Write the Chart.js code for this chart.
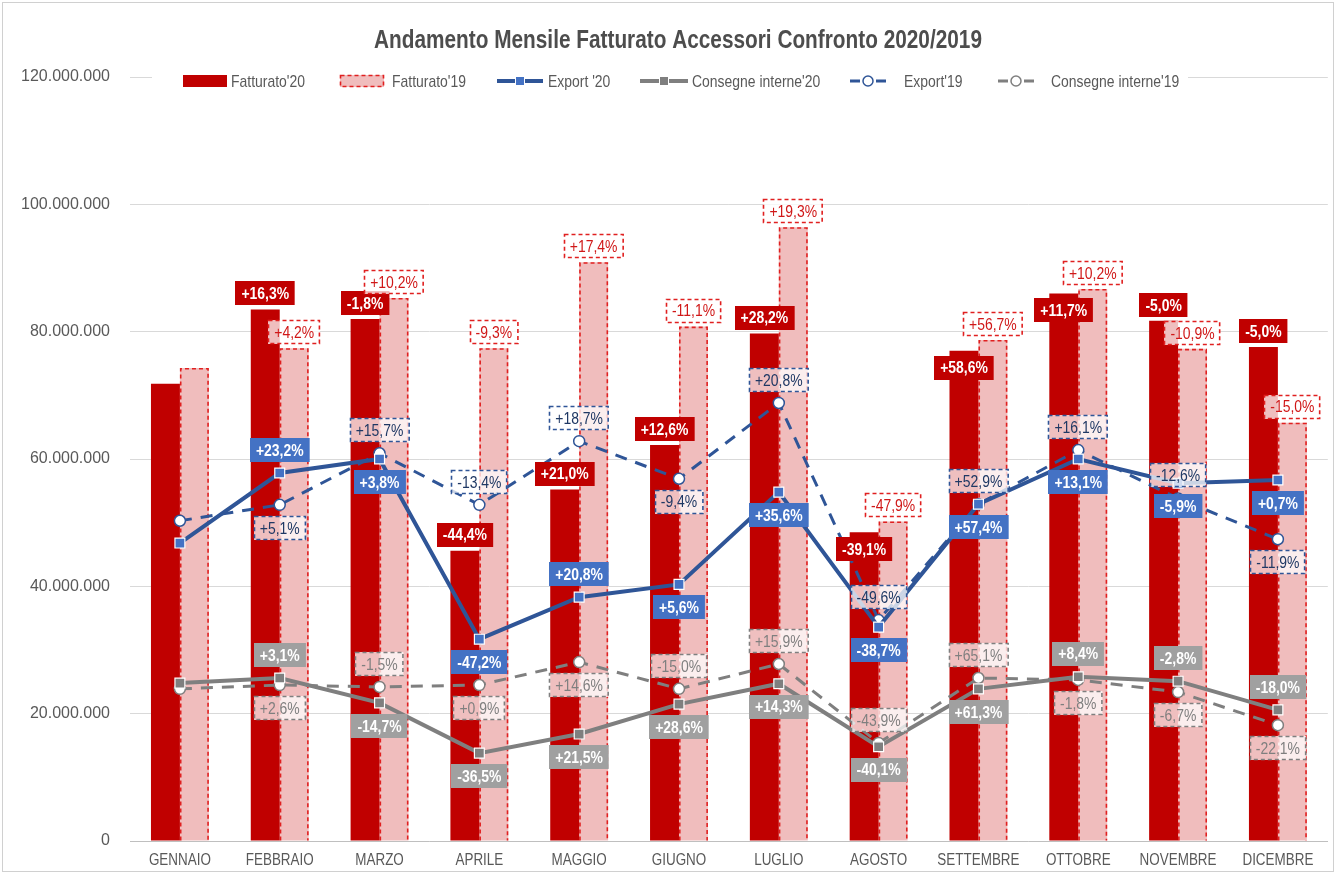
<!DOCTYPE html>
<html>
<head>
<meta charset="utf-8">
<script src="https://cdn.jsdelivr.net/npm/chart.js@4.4.0/dist/chart.umd.min.js"></script>
<style>
    html, body { margin: 0; padding: 0; background: #fff; }
    #wrap { width: 1336px; height: 874px; }
    canvas { display: block; }
</style>
</head>
<body>
<div id="wrap"><canvas id="salesChart" width="1336" height="874"></canvas></div>
<script>
// data
const months = ['GENNAIO', 'FEBBRAIO', 'MARZO', 'APRILE', 'MAGGIO', 'GIUGNO',
    'LUGLIO', 'AGOSTO', 'SETTEMBRE', 'OTTOBRE', 'NOVEMBRE', 'DICEMBRE'];

const fatturato20 = [71800000, 83500000, 82000000, 45600000, 55200000, 62200000,
    79700000, 48500000, 77000000, 86000000, 81700000, 77600000];
const fatturato19 = [74300000, 77400000, 85300000, 77400000, 90900000, 80800000,
    96400000, 50200000, 78700000, 86700000, 77300000, 65700000];
const export20 = [46800000, 57800000, 60000000, 31700000, 38300000, 40300000,
    54800000, 33600000, 52900000, 60000000, 56200000, 56700000];
const export19 = [50300000, 52800000, 60900000, 52800000, 62800000, 56900000,
    68800000, 34700000, 52900000, 61400000, 53800000, 47400000];
const consegne20 = [24800000, 25600000, 21700000, 13800000, 16800000, 21500000,
    24700000, 14800000, 23900000, 25800000, 25100000, 20600000];
const consegne19 = [23900000, 24500000, 24200000, 24500000, 28100000, 23900000,
    27800000, 15400000, 25600000, 25300000, 23400000, 18200000];

// month-over-month change shown in the labels
const fatturato20Pct = [null, 16.3, -1.8, -44.4, 21.0, 12.6, 28.2, -39.1, 58.6, 11.7, -5.0, -5.0];
const fatturato19Pct = [null, 4.2, 10.2, -9.3, 17.4, -11.1, 19.3, -47.9, 56.7, 10.2, -10.9, -15.0];
const export20Pct = [null, 23.2, 3.8, -47.2, 20.8, 5.6, 35.6, -38.7, 57.4, 13.1, -5.9, 0.7];
const export19Pct = [null, 5.1, 15.7, -13.4, 18.7, -9.4, 20.8, -49.6, 52.9, 16.1, -12.6, -11.9];
const consegne20Pct = [null, 3.1, -14.7, -36.5, 21.5, 28.6, 14.3, -40.1, 61.3, 8.4, -2.8, -18.0];
const consegne19Pct = [null, 2.6, -1.5, 0.9, 14.6, -15.0, 15.9, -43.9, 65.1, -1.8, -6.7, -22.1];

const yTicks = [0, 20000000, 40000000, 60000000, 80000000, 100000000, 120000000];

// label placement: a = above, b = below, i = inside bar top
const posF20 = ['', 'a', 'a', 'a', 'a', 'a', 'a', 'i', 'i', 'i', 'a', 'a'];
const posF19 = ['', 'a', 'a', 'a', 'a', 'a', 'a', 'a', 'a', 'a', 'a', 'a'];
const posE20 = ['', 'a', 'b', 'b', 'a', 'b', 'b', 'b', 'b', 'b', 'b', 'b'];
const posE19 = ['', 'b', 'a', 'a', 'a', 'b', 'a', 'a', 'a', 'a', 'a', 'b'];
const posC20 = ['', 'a', 'b', 'b', 'b', 'b', 'b', 'b', 'b', 'a', 'a', 'a'];
const posC19 = ['', 'b', 'a', 'b', 'b', 'a', 'a', 'a', 'a', 'b', 'b', 'b'];

// no narrow face installed, so text gets squeezed horizontally by hand
const FONT = "'Liberation Sans', Arial, sans-serif";
const SQUEEZE = 0.82;

const RED = '#C00000';
const PINK = '#F0BDBD';
const DASH_RED = '#E02020';
const BLUE = '#2F5597';
const BLUE_FILL = '#4472C4';
const GREY = '#7F7F7F';
const GREY_FILL = '#A0A0A0';

function fmtPct(v) {
    return (v > 0 ? '+' : '') + v.toFixed(1).replace('.', ',') + '%';
}

function fmtMoney(v) {
    return String(Math.round(v)).replace(/\B(?=(\d{3})+(?!\d))/g, '.');
}

function narrowText(ctx, text, x, y, sx) {
    ctx.save();
    ctx.translate(x, y);
    ctx.scale(sx, 1);
    ctx.fillText(text, 0, 0);
    ctx.restore();
}

const labelStyles = [
    { pct: fatturato20Pct, pos: posF20, bar: true, bg: RED, color: '#fff', bold: true },
    { pct: fatturato19Pct, pos: posF19, bar: true, bg: 'rgba(255,255,255,0.75)', border: DASH_RED, color: '#D01818' },
    { pct: export20Pct, pos: posE20, bg: BLUE_FILL, color: '#fff', bold: true },
    { pct: consegne20Pct, pos: posC20, bg: GREY_FILL, color: '#fff', bold: true },
    { pct: export19Pct, pos: posE19, bg: 'rgba(255,255,255,0.75)', border: BLUE, color: '#1F3864' },
    { pct: consegne19Pct, pos: posC19, bg: 'rgba(255,255,255,0.75)', border: GREY, color: '#7F7F7F' }
];

function drawBox(ctx, cx, cy, text, st) {
    ctx.save();
    ctx.font = (st.bold ? 'bold ' : '') + '17px ' + FONT;
    const w = ctx.measureText(text).width * SQUEEZE + 12;
    const h = 24;
    const x = Math.round(cx - w / 2), y = Math.round(cy - h / 2);
    ctx.fillStyle = st.bg;
    ctx.fillRect(x, y, w, h);
    if (st.border) {
        ctx.setLineDash([4, 3]);
        ctx.lineWidth = 1.6;
        ctx.strokeStyle = st.border;
        ctx.strokeRect(x + 0.5, y + 0.5, w - 1, h - 1);
    }
    ctx.fillStyle = st.color;
    ctx.textAlign = 'center';
    ctx.textBaseline = 'middle';
    narrowText(ctx, text, cx, cy + 1, SQUEEZE);
    ctx.restore();
}

// dashed outline for the 2019 bars, right after that dataset is drawn
const barOutline = {
    id: 'barOutline',
    afterDatasetDraw(chart, args) {
        if (args.index !== 1) return;
        const ctx = chart.ctx;
        ctx.save();
        ctx.setLineDash([4, 3]);
        ctx.lineWidth = 1.6;
        ctx.strokeStyle = DASH_RED;
        args.meta.data.forEach(el => {
            const p = el.getProps(['x', 'y', 'base', 'width'], true);
            const l = p.x - p.width / 2 + 0.8, r = p.x + p.width / 2 - 0.8;
            ctx.beginPath();
            ctx.moveTo(l, p.base);
            ctx.lineTo(l, p.y + 0.8);
            ctx.lineTo(r, p.y + 0.8);
            ctx.lineTo(r, p.base);
            ctx.stroke();
        });
        ctx.restore();
    }
};

const pctLabels = {
    id: 'pctLabels',
    afterDatasetsDraw(chart) {
        const ctx = chart.ctx;
        labelStyles.forEach((st, i) => {
            const meta = chart.getDatasetMeta(i);
            meta.data.forEach((el, j) => {
                const v = st.pct[j];
                if (v === null) return;
                const p = el.getProps(['x', 'y'], true);
                const pos = st.pos[j];
                let cy;
                if (st.bar) {
                    cy = pos === 'i' ? p.y + 5 + 12 : p.y - 4 - 12;
                } else {
                    cy = pos === 'a' ? p.y - 11 - 12 : p.y + 11 + 12;
                }
                drawBox(ctx, p.x, cy, fmtPct(v), st);
            });
        });
    }
};

const titleAndLegend = {
    id: 'titleAndLegend',
    afterDraw(chart) {
        const ctx = chart.ctx;
        ctx.save();
        // outer frame
        ctx.strokeStyle = '#D0D0D0';
        ctx.lineWidth = 1;
        ctx.strokeRect(2.5, 2.5, chart.width - 5, chart.height - 5);

        ctx.textBaseline = 'middle';
        ctx.textAlign = 'center';

        // month names under the axis, placed by the x scale
        const xs = chart.scales.x;
        ctx.fillStyle = '#595959';
        ctx.font = '16px ' + FONT;
        months.forEach((m, i) => {
            narrowText(ctx, m, xs.getPixelForTick(i), xs.top + 20, 0.84);
        });

        ctx.fillStyle = '#4D4D4D';
        ctx.font = 'bold 26px ' + FONT;
        narrowText(ctx, 'Andamento Mensile Fatturato Accessori Confronto 2020/2019', 678, 41, 0.8);

        // legend
        const ly = 81;
        ctx.fillStyle = '#fff';
        ctx.fillRect(152, 70, 1036, 22);
        ctx.font = '17px ' + FONT;
        ctx.textAlign = 'left';
        const items = [
            { sx: 183, sw: 44, tx: 231, kind: 'bar' },
            { sx: 340, sw: 44, tx: 392, kind: 'bar19' },
            { sx: 497, sw: 46, tx: 548, kind: 'line', color: BLUE, fill: BLUE_FILL },
            { sx: 640, sw: 48, tx: 692, kind: 'line', color: GREY, fill: GREY },
            { sx: 850, sw: 36, tx: 904, kind: 'dash', color: BLUE },
            { sx: 998, sw: 36, tx: 1051, kind: 'dash', color: GREY }
        ];
        items.forEach((it, i) => {
            const ds = chart.data.datasets[i];
            const mid = it.sx + it.sw / 2;
            if (it.kind === 'bar') {
                ctx.fillStyle = RED;
                ctx.fillRect(it.sx, ly - 6, it.sw, 12);
            } else if (it.kind === 'bar19') {
                ctx.fillStyle = PINK;
                ctx.fillRect(it.sx, ly - 6, it.sw, 12);
                ctx.setLineDash([4, 3]);
                ctx.strokeStyle = DASH_RED;
                ctx.lineWidth = 1.6;
                ctx.strokeRect(it.sx + 0.5, ly - 5.5, it.sw - 1, 11);
                ctx.setLineDash([]);
            } else if (it.kind === 'line') {
                ctx.strokeStyle = it.color;
                ctx.lineWidth = 4;
                ctx.beginPath();
                ctx.moveTo(it.sx, ly);
                ctx.lineTo(it.sx + it.sw, ly);
                ctx.stroke();
                ctx.fillStyle = '#fff';
                ctx.fillRect(mid - 5, ly - 5, 10, 10);
                ctx.fillStyle = it.fill;
                ctx.fillRect(mid - 4, ly - 4, 8, 8);
            } else {
                ctx.strokeStyle = it.color;
                ctx.lineWidth = 3;
                ctx.beginPath();
                ctx.moveTo(it.sx, ly);
                ctx.lineTo(it.sx + 10, ly);
                ctx.moveTo(it.sx + it.sw - 10, ly);
                ctx.lineTo(it.sx + it.sw, ly);
                ctx.stroke();
                ctx.fillStyle = '#fff';
                ctx.lineWidth = 1.5;
                ctx.beginPath();
                ctx.arc(mid, ly, 5, 0, Math.PI * 2);
                ctx.fill();
                ctx.stroke();
            }
            ctx.fillStyle = '#595959';
            narrowText(ctx, ds.label, it.tx, ly + 1, SQUEEZE);
        });
        ctx.restore();
    }
};

const ctx = document.getElementById('salesChart').getContext('2d');

window.chart = new Chart(ctx, {
    data: {
        labels: months,
        datasets: [
            {
                type: 'bar', label: "Fatturato'20", data: fatturato20,
                backgroundColor: RED, order: 5,
                barPercentage: 1, categoryPercentage: 0.58
            },
            {
                type: 'bar', label: "Fatturato'19", data: fatturato19,
                backgroundColor: PINK, order: 5,
                barPercentage: 1, categoryPercentage: 0.58
            },
            {
                type: 'line', label: "Export '20", data: export20,
                borderColor: BLUE, borderWidth: 4, tension: 0, order: 1,
                pointStyle: 'rect', pointRadius: 7, pointBackgroundColor: BLUE_FILL,
                pointBorderColor: '#fff', pointBorderWidth: 1.2
            },
            {
                type: 'line', label: "Consegne interne'20", data: consegne20,
                borderColor: GREY, borderWidth: 4, tension: 0, order: 3,
                pointStyle: 'rect', pointRadius: 7, pointBackgroundColor: GREY,
                pointBorderColor: '#fff', pointBorderWidth: 1.2
            },
            {
                type: 'line', label: "Export'19", data: export19,
                borderColor: BLUE, borderWidth: 3, borderDash: [12, 9], tension: 0, order: 2,
                pointStyle: 'circle', pointRadius: 5.5, pointBackgroundColor: '#fff',
                pointBorderColor: BLUE, pointBorderWidth: 1.5
            },
            {
                type: 'line', label: "Consegne interne'19", data: consegne19,
                borderColor: GREY, borderWidth: 3, borderDash: [12, 9], tension: 0, order: 4,
                pointStyle: 'circle', pointRadius: 5.5, pointBackgroundColor: '#fff',
                pointBorderColor: GREY, pointBorderWidth: 1.5
            }
        ]
    },
    options: {
        responsive: false,
        animation: false,
        layout: { padding: { top: 77, right: 6, left: 0, bottom: 0 } },
        plugins: {
            legend: { display: false },
            title: { display: false },
            tooltip: { enabled: false }
        },
        scales: {
            x: {
                grid: { display: false, drawTicks: false },
                border: { color: '#BFBFBF', width: 1 },
                ticks: { display: false, autoSkip: false },
                afterFit: scale => { scale.height = 33; }
            },
            y: {
                min: 0, max: 120000000,
                afterBuildTicks: scale => { scale.ticks = yTicks.map(v => ({ value: v })); },
                grid: { color: '#D9D9D9', drawTicks: false },
                border: { display: false },
                ticks: {
                    color: '#595959', font: { family: FONT, size: 16 }, padding: 20,
                    callback: v => fmtMoney(v)
                },
                afterFit: scale => { scale.width = 130; }
            }
        }
    },
    plugins: [barOutline, pctLabels, titleAndLegend]
});
</script>
</body>
</html>
